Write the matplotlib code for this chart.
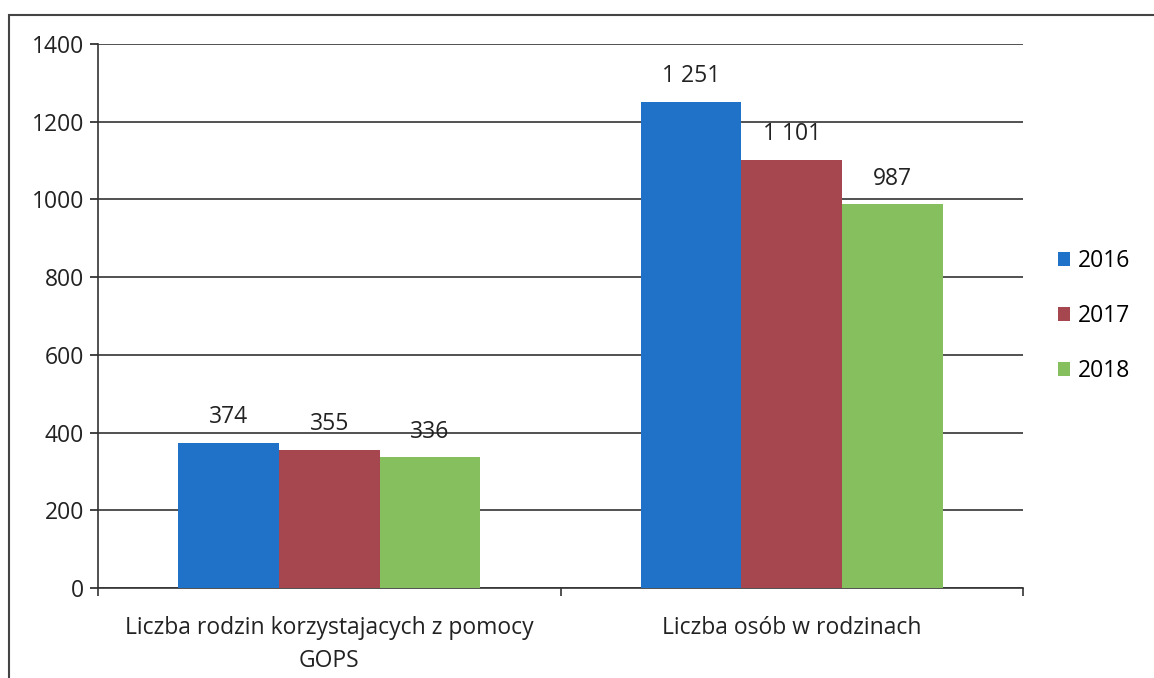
import matplotlib.pyplot as plt
import numpy as np
from matplotlib.patches import Rectangle

categories = ["Liczba rodzin korzystajacych z pomocy\nGOPS", "Liczba osób w rodzinach"]
years = ["2016", "2017", "2018"]
values = {
    "2016": [374, 1251],
    "2017": [355, 1101],
    "2018": [336, 987],
}
labels = {
    "2016": ["374", "1 251"],
    "2017": ["355", "1 101"],
    "2018": ["336", "987"],
}
colors = ["#1F72C8", "#A6464F", "#86BF5E"]

plt.rcParams['font.family'] = ['Open Sans', 'DejaVu Sans']
fs = 16.5

fig = plt.figure(figsize=(11.54, 6.78), dpi=100)
ax = fig.add_axes([98 / 1154, 1 - 588 / 678, 925 / 1154, 544 / 678])

x = np.arange(len(categories))
w = 0.218
for i, y in enumerate(years):
    pos = x + (i - 1) * w
    ax.bar(pos, values[y], w, color=colors[i], label=y, zorder=3)
    for p, v, t in zip(pos, values[y], labels[y]):
        ax.annotate(t, (p, v), xytext=(0, 10), textcoords='offset points',
                    ha='center', va='bottom', fontsize=fs, color='#222222')

ax.set_xlim(-0.5, 1.5)
ax.set_ylim(0, 1400)
ax.set_yticks(range(0, 1401, 200))
ax.yaxis.grid(True, color='#333333', linewidth=1.2, zorder=0)
ax.tick_params(axis='y', labelsize=fs, length=6, direction='out', width=1.2, colors='#222222', pad=4)
ax.set_xticks(x)
ax.set_xticklabels(categories, fontsize=fs, color='#222222', linespacing=1.5)
ax.set_xticks([-0.5, 0.5, 1.5], minor=True)
ax.tick_params(axis='x', which='major', length=0, pad=20)
ax.tick_params(axis='x', which='minor', length=6, width=1.2, color='#333333')
for s in ['top', 'right']:
    ax.spines[s].set_visible(False)
ax.spines['left'].set_linewidth(1.2)
ax.spines['bottom'].set_linewidth(1.2)
ax.spines['left'].set_color('#333333')
ax.spines['bottom'].set_color('#333333')

ax.legend(loc='center left', bbox_to_anchor=(1.015, 0.5), frameon=False, fontsize=fs,
          handlelength=0.55, handleheight=0.55, handletextpad=0.35, labelspacing=1.35)

fig.patches.append(Rectangle((9 / 1154, -0.1), 2, 1.1 - 15 / 678, transform=fig.transFigure,
                             fill=False, edgecolor='#444444', linewidth=1.5))

fig.savefig("out.png", dpi=100)
